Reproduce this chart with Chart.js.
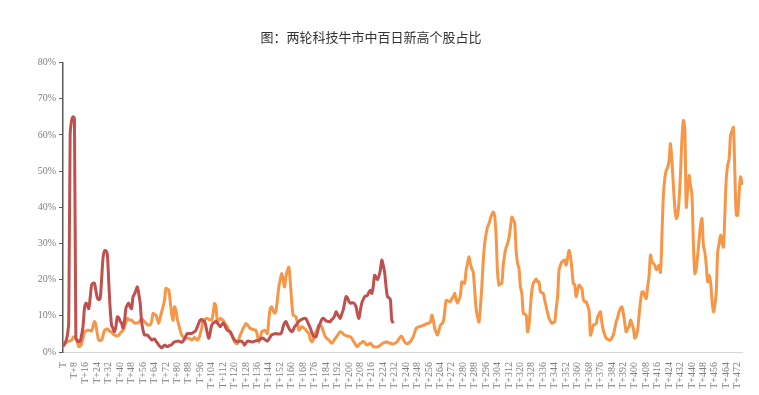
<!DOCTYPE html>
<html>
<head>
<meta charset="utf-8">
<title>两轮科技牛市中百日新高个股占比</title>
<script src="https://cdn.jsdelivr.net/npm/chart.js@4/dist/chart.umd.min.js"></script>
<style>
  html, body { margin: 0; padding: 0; background: #fff; }
  .chart-box { position: relative; width: 759px; height: 395px; }
</style>
</head>
<body>
<div class="chart-box">
  <canvas id="chart"></canvas>
</div>
<script>
// 横轴：T, T+1, ... T+475（每 8 天显示一个标签）
const dayCount = 476
const labels = Array.from({ length: dayCount }, (_, i) => i === 0 ? 'T' : 'T+' + i)
const labelStep = 8

// 纵轴刻度（%）
const yTicks = [0, 10, 20, 30, 40, 50, 60, 70, 80]

// 第一轮科技牛市（红线，%）
const firstRound = [
  1.5, 2.2, 3.0, 4.5, 8.0, 60.0, 64.0, 65.0,
  64.5, 4.0, 3.2, 2.8, 3.0, 4.7, 7.0, 12.0,
  13.5, 13.0, 12.0, 15.0, 18.5, 19.0, 19.0, 17.0,
  15.0, 14.5, 14.8, 20.0, 26.0, 28.0, 28.0, 27.0,
  19.4, 12.0, 7.4, 6.5, 5.6, 7.0, 9.7, 9.5,
  8.5, 8.0, 6.6, 8.5, 12.0, 13.0, 13.5, 12.5,
  12.0, 15.3, 16.0, 17.0, 18.0, 16.0, 13.5, 8.4,
  6.0, 4.7, 4.7, 4.7, 4.2, 3.8, 3.3, 3.5,
  3.6, 3.0, 2.5, 1.9, 1.5, 1.2, 1.5, 1.9,
  1.7, 1.5, 1.7, 1.9, 2.0, 2.5, 2.8, 2.9,
  3.0, 3.0, 2.8, 2.7, 3.0, 3.6, 4.5, 5.1,
  5.1, 5.1, 5.1, 5.4, 5.6, 6.0, 7.0, 8.0,
  8.8, 9.0, 8.6, 8.5, 7.0, 5.1, 3.8, 5.5,
  7.4, 8.0, 8.2, 8.5, 8.0, 7.5, 7.0, 7.5,
  8.0, 7.5, 6.6, 6.0, 5.8, 5.6, 4.8, 4.0,
  3.3, 3.0, 2.8, 2.9, 3.0, 3.0, 2.5, 1.9,
  2.5, 3.0, 3.0, 2.9, 2.8, 2.8, 3.0, 3.1,
  3.2, 3.3, 3.5, 3.8, 3.8, 3.5, 3.2, 3.0,
  3.5, 4.2, 4.7, 4.9, 5.0, 5.1, 5.0, 5.0,
  5.0, 5.5, 7.0, 8.0, 8.4, 7.5, 6.6, 6.0,
  5.6, 6.0, 7.0, 7.4, 8.0, 8.5, 8.8, 9.0,
  9.2, 9.3, 9.2, 8.4, 7.5, 6.6, 5.5, 4.5,
  4.2, 4.2, 5.5, 7.0, 8.0, 9.0, 9.3, 9.0,
  8.6, 8.5, 8.4, 8.4, 9.0, 9.3, 10.0, 11.1,
  10.5, 9.8, 9.3, 10.5, 11.6, 13.5, 15.3, 15.0,
  14.0, 13.5, 13.6, 13.6, 13.3, 12.5, 10.5, 9.3,
  11.5, 13.5, 14.5, 15.3, 15.5, 15.7, 16.5, 17.1,
  16.2, 18.0, 21.2, 20.6, 20.0, 21.0, 22.6, 25.4,
  24.0, 22.0, 18.0, 15.3, 15.0, 14.5, 8.8, 8.0
]

// 第二轮科技牛市（橙线，%）
const secondRound = [
  1.9, 2.2, 2.5, 2.8, 3.0, 3.1, 3.3, 4.0,
  4.2, 3.5, 2.8, 1.5, 1.6, 2.3, 3.8, 5.6,
  5.8, 6.0, 6.0, 5.9, 5.8, 7.0, 8.4, 7.5,
  5.0, 3.3, 3.2, 3.3, 4.5, 6.0, 6.2, 6.4,
  6.0, 5.6, 5.6, 5.0, 4.7, 4.5, 4.5, 4.6,
  5.2, 5.6, 6.0, 7.0, 8.2, 9.3, 9.0, 8.8,
  8.8, 8.4, 8.0, 8.0, 8.0, 8.2, 8.8, 9.3,
  8.8, 8.4, 8.0, 7.5, 7.5, 7.5, 8.5, 10.7,
  10.4, 10.2, 9.0, 8.0, 9.5, 11.1, 12.5, 14.3,
  17.6, 17.4, 17.1, 14.0, 10.5, 8.8, 12.5, 11.5,
  9.0, 7.5, 6.0, 4.7, 4.2, 3.8, 3.8, 3.8,
  3.8, 3.6, 3.3, 3.6, 4.0, 3.6, 3.3, 3.8,
  5.0, 6.5, 8.8, 9.0, 9.2, 9.3, 9.0, 8.9,
  8.8, 10.5, 13.4, 12.5, 8.4, 8.8, 9.3, 9.0,
  8.8, 8.0, 7.5, 7.0, 6.0, 5.3, 4.7, 3.8,
  2.8, 2.4, 2.4, 3.5, 4.7, 5.6, 6.5, 7.2,
  7.9, 7.5, 7.0, 6.5, 6.4, 6.2, 6.1, 6.0,
  4.5, 2.8, 4.0, 5.6, 5.8, 6.0, 5.6, 5.1,
  9.0, 12.0, 12.5, 11.5, 10.7, 11.5, 14.5, 18.0,
  20.0, 21.7, 20.0, 18.0, 21.0, 22.5, 23.4, 19.3,
  14.0, 10.2, 10.0, 9.7, 8.0, 6.0, 6.5, 7.0,
  6.8, 6.5, 6.0, 5.5, 5.1, 3.5, 2.8, 3.3,
  4.8, 5.6, 6.5, 7.4, 7.2, 7.0, 5.8, 4.7,
  4.0, 3.6, 3.3, 2.8, 2.4, 2.8, 3.5, 4.0,
  4.6, 5.2, 5.6, 5.4, 5.0, 4.7, 4.5, 4.4,
  4.3, 4.2, 3.8, 3.1, 2.5, 1.8, 1.5, 2.0,
  2.4, 2.6, 3.0, 2.6, 2.1, 1.9, 2.2, 2.4,
  2.0, 1.5, 1.4, 1.4, 1.4, 1.6, 1.9, 2.2,
  2.5, 2.6, 2.8, 2.7, 2.5, 2.4, 2.3, 2.2,
  2.4, 2.6, 3.0, 3.6, 4.2, 4.3, 3.5, 2.8,
  2.4, 2.3, 2.6, 2.8, 3.5, 4.2, 5.4, 6.5,
  6.8, 7.0, 7.1, 7.2, 7.4, 7.5, 7.8, 7.9,
  8.0, 8.3, 10.2, 9.0, 6.5, 5.5, 4.7, 6.0,
  7.4, 7.8, 8.3, 11.0, 14.3, 14.2, 14.0, 13.9,
  14.8, 15.3, 16.2, 14.5, 13.5, 14.5, 15.7, 19.4,
  19.2, 19.0, 22.6, 24.5, 26.3, 24.4, 23.0, 22.0,
  17.1, 12.0, 9.7, 8.3, 12.5, 18.0, 25.4, 30.0,
  32.7, 34.6, 35.5, 36.9, 38.0, 38.7, 37.5, 32.0,
  22.0, 18.5, 18.8, 19.0, 24.0, 27.0, 28.9, 30.0,
  31.5, 34.5, 37.3, 36.5, 35.6, 28.0, 24.5, 23.0,
  18.0, 16.2, 10.7, 10.5, 10.2, 5.6, 7.5, 12.5,
  17.0, 19.0, 19.6, 20.2, 19.4, 19.4, 16.6, 16.4,
  16.2, 14.3, 12.5, 10.8, 9.3, 8.5, 7.9, 8.2,
  8.3, 12.0, 15.3, 22.6, 24.0, 24.9, 25.2, 25.4,
  24.0, 26.0, 28.1, 26.5, 23.0, 19.0, 18.5, 15.3,
  17.0, 18.5, 18.0, 17.6, 14.5, 13.9, 13.9, 12.8,
  11.6, 4.7, 6.0, 7.4, 7.6, 7.9, 9.7, 10.5,
  11.1, 8.0, 6.0, 4.8, 3.8, 3.5, 3.3, 3.3,
  4.0, 4.7, 6.5, 8.4, 9.5, 11.1, 12.0, 12.5,
  10.7, 8.0, 5.6, 6.5, 7.0, 8.8, 7.8, 6.6,
  3.8, 4.5, 6.0, 10.2, 14.0, 16.6, 16.6, 15.5,
  14.8, 18.0, 21.2, 26.8, 25.0, 24.5, 24.0, 22.8,
  23.0, 24.0, 22.0, 32.3, 43.3, 48.0, 50.2, 51.0,
  53.0, 57.6, 52.6, 46.0, 40.0, 36.9, 38.0, 42.0,
  49.7, 58.9, 64.0, 61.6, 40.1, 44.9, 48.8, 46.0,
  43.3, 30.0, 21.7, 23.0, 26.8, 31.0, 35.0, 36.9,
  29.5, 27.6, 24.0, 19.4, 21.2, 19.4, 14.3, 11.1,
  13.0, 16.6, 27.7, 30.0, 32.3, 30.5, 29.0, 38.0,
  48.0, 51.6, 53.4, 59.9, 61.0, 62.1, 49.7, 37.8,
  37.8, 44.0, 48.4, 46.2
]

const serif = "'Liberation Serif', 'DejaVu Serif', serif"

const ctx = document.getElementById('chart').getContext('2d')

new Chart(ctx, {
  type: 'line',
  data: {
    labels: labels,
    datasets: [
      {
        label: '第一轮',
        data: firstRound,
        borderColor: '#C0504D',
        borderWidth: 3,
        pointRadius: 0,
        tension: 0.3,
        fill: false,
        order: 0
      },
      {
        label: '第二轮',
        data: secondRound,
        borderColor: '#F79646',
        borderWidth: 3,
        pointRadius: 0,
        tension: 0.3,
        fill: false,
        order: 1
      }
    ]
  },
  options: {
    responsive: true,
    maintainAspectRatio: false,
    animation: false,
    layout: {
      padding: { left: 0, right: 17, top: 0, bottom: 3 }
    },
    plugins: {
      legend: { display: false },
      tooltip: { enabled: false },
      title: {
        display: true,
        text: '图：两轮科技牛市中百日新高个股占比',
        color: '#333',
        font: { family: "'Noto Sans CJK SC', sans-serif", size: 13, weight: 'normal' },
        padding: { top: 29, bottom: 18 }
      }
    },
    scales: {
      x: {
        grid: { display: false },
        border: { display: true, color: '#d9d9d9', width: 1 },
        afterFit: function(scale) {
          scale.height = 40
        },
        ticks: {
          autoSkip: false,
          minRotation: 90,
          maxRotation: 90,
          padding: 2,
          color: '#7f7f7f',
          font: { family: serif, size: 10 },
          callback: function(value, index) {
            return index % labelStep === 0 ? labels[index] : null
          }
        }
      },
      y: {
        min: yTicks[0],
        max: yTicks[yTicks.length - 1],
        afterFit: function(scale) {
          scale.width = 63
        },
        afterBuildTicks: function(scale) {
          scale.ticks = yTicks.map(v => ({ value: v }))
        },
        grid: {
          display: true,
          drawOnChartArea: false,
          drawTicks: true,
          tickLength: 4,
          color: '#595959'
        },
        border: { display: true, color: '#595959', width: 1.5 },
        ticks: {
          padding: 3,
          color: '#7f7f7f',
          font: { family: serif, size: 10 },
          callback: function(value) {
            return value + '%'
          }
        }
      }
    }
  }
})
</script>
</body>
</html>
